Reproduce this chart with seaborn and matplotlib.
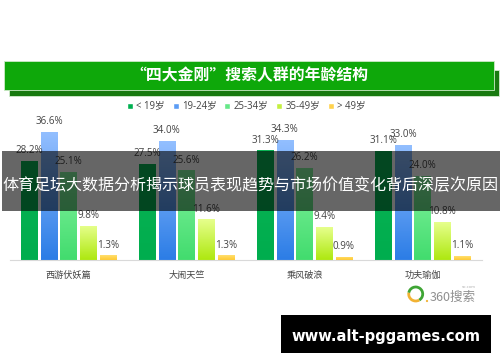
import numpy as np
import pandas as pd
import matplotlib.pyplot as plt
from matplotlib.patches import Rectangle, Arc, Circle
from matplotlib.colors import LinearSegmentedColormap
import seaborn as sns

shows = ['西游伏妖篇', '大闹天竺', '乘风破浪', '功夫瑜伽']
age_groups = ['< 19岁', '19-24岁', '25-34岁', '35-49岁', '> 49岁']
under_19 = [28.2, 27.5, 31.3, 31.1]
age_19_24 = [36.6, 34.0, 34.3, 33.0]
age_25_34 = [25.1, 25.6, 26.2, 24.0]
age_35_49 = [9.8, 11.6, 9.4, 10.8]
over_49 = [1.3, 1.3, 0.9, 1.1]

# flat colour for the legend, top/bottom for the bar gradient
flat_colors = ['#00b050', '#5b9cf5', '#66e888', '#c4f040', '#ffd24d']
grad_colors = [('#0ab354', '#00ad4e'), ('#93bfff', '#2c7de6'), ('#82f29e', '#42dc6e'),
               ('#e6ff8c', '#aee810'), ('#ffdf70', '#ffc930')]

sns.set_theme(style="white")
plt.rcParams['font.family'] = ['Open Sans', 'Noto Sans CJK SC', 'DejaVu Sans']
CJK = ['Noto Sans CJK SC', 'DejaVu Sans']
TEXT = '#444444'

df = pd.DataFrame({
    'show': np.repeat(shows, len(age_groups)),
    'age': age_groups * len(shows),
    'share': np.column_stack([under_19, age_19_24, age_25_34, age_35_49, over_49]).ravel(),
})


def main():
    fig = plt.figure(figsize=(5, 3.62), dpi=100, facecolor='white')
    ax = fig.add_axes([9.5 / 500, 102 / 362, 472 / 500, 160 / 362])

    sns.barplot(data=df, x='show', y='share', hue='age', hue_order=age_groups,
                palette=flat_colors, width=0.83, gap=0.18, saturation=1, ax=ax)
    ax.set_xlim(-0.5, 3.5)
    ax.set_ylim(0, 160 / 3.5)

    # gradient fill, clipped to each bar
    for container, (top, bottom) in zip(ax.containers, grad_colors):
        ax.bar_label(container, fmt='%.1f%%', padding=3.5, fontsize=7.1, color=TEXT)
        cmap = LinearSegmentedColormap.from_list('g', [bottom, top])
        for bar in container:
            x, w, h = bar.get_x(), bar.get_width(), bar.get_height()
            im = ax.imshow(np.linspace(1, 0, 64).reshape(-1, 1), cmap=cmap, aspect='auto',
                           extent=(x, x + w, 0, h), zorder=2)
            im.set_clip_path(bar)
    ax.set_xlim(-0.5, 3.5)
    ax.set_ylim(0, 160 / 3.5)

    ax.set_xlabel('')
    ax.set_ylabel('')
    ax.set_yticks([])
    ax.tick_params(axis='x', length=0, pad=8, labelsize=6.6, labelcolor=TEXT)
    sns.despine(ax=ax, left=True)
    ax.spines['bottom'].set_color('#d9d9d9')
    ax.spines['bottom'].set_linewidth(0.8)
    ax.patch.set_alpha(0)

    sns.move_legend(ax, 'center', bbox_to_anchor=(246.5 / 500, (362 - 106.7) / 362),
                    bbox_transform=fig.transFigure, ncol=5, frameon=False, title=None,
                    fontsize=6.9, labelcolor=TEXT, handlelength=0.62, handleheight=0.62,
                    handletextpad=0.35, columnspacing=0.8)

    # pixel-coordinate layer for the banner, overlay strip and logo
    top = fig.add_axes([0, 0, 1, 1], zorder=5)
    top.set_xlim(0, 500)
    top.set_ylim(362, 0)
    top.axis('off')

    top.add_patch(Rectangle((8.5, 70), 490, 25.7, fc='#187a10', ec='#d4ecd0', lw=0.6))
    top.add_patch(Rectangle((4, 61), 490, 29, fc='#0ea80a', ec='#cdeac8', lw=0.6))
    top.text(249.5, 75, '“四大金刚”搜索人群的年龄结构', color='white', fontsize=11.4,
             fontweight='bold', family=CJK, ha='center', va='center')

    top.add_patch(Rectangle((2, 151), 498, 60, fc='black', alpha=0.6, lw=0))
    top.text(250, 185.5, '体育足坛大数据分析揭示球员表现趋势与市场价值变化背后深层次原因',
             color='white', fontsize=11.55, fontweight='medium', family=CJK, ha='center', va='center')

    # 360 logo
    top.add_patch(Arc((415.7, 294), 14, 14, theta1=190, theta2=420, color='#3fa535', lw=2))
    top.add_patch(Arc((415.7, 294), 14, 14, theta1=60, theta2=190, color='#f2b233', lw=2))
    top.add_patch(Circle((427, 301), 1.1, color='#f2b233', lw=0))
    top.text(430, 297, '360搜索', color='#8f8f8f', fontsize=9, family=CJK, ha='left', va='center')
    top.text(476, 287.5, 'so.com', color='#aaaaaa', fontsize=3, ha='right', va='center')

    top.add_patch(Rectangle((281, 315), 210, 38, fc='black', lw=0))
    top.text(385.5, 336, 'www.alt-pggames.com', color='white', fontsize=10.6, fontweight='bold',
             family='DejaVu Sans', ha='center', va='center')

    fig.savefig('out.png', dpi=100)


if __name__ == '__main__':
    main()
